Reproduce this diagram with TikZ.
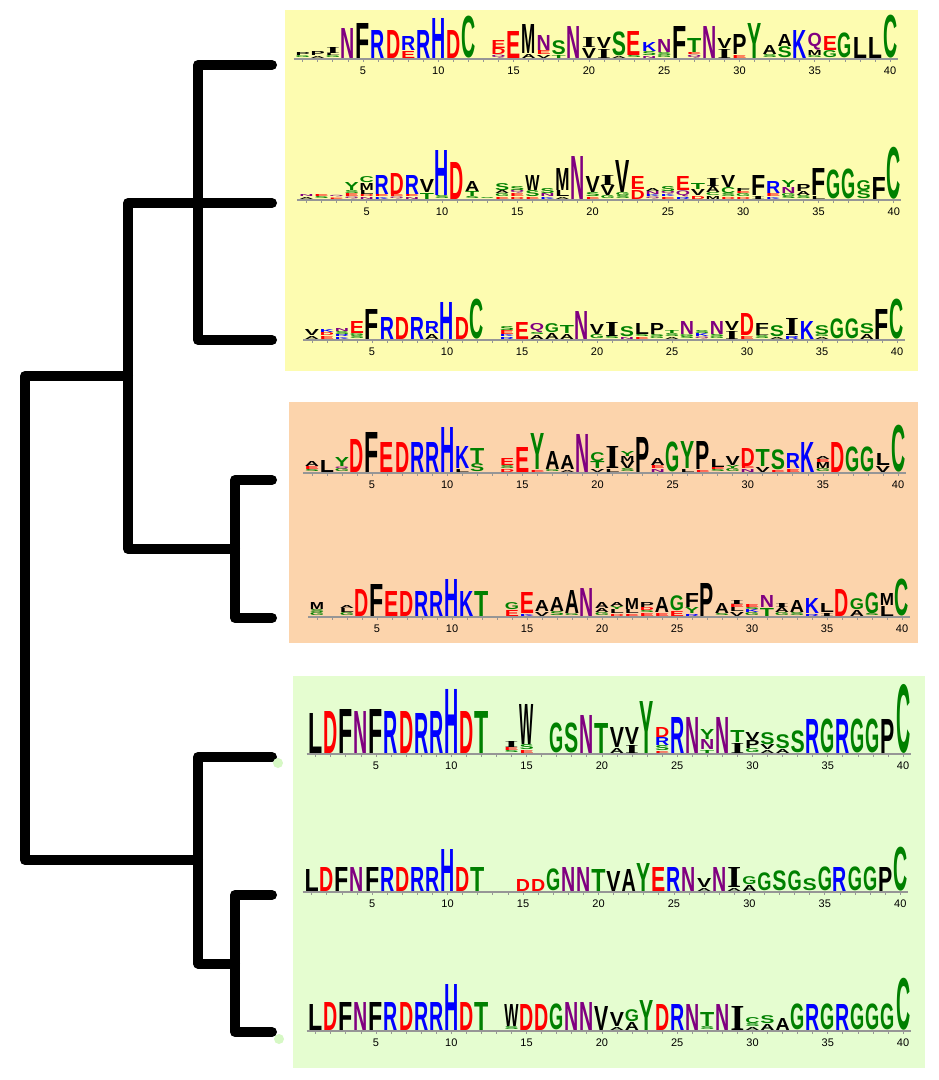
\documentclass[tikz,border=0pt]{standalone}
\usepackage{fontspec}
\usepackage{graphicx}
\newfontfamily\logofont{Liberation Sans}
\newfontfamily\logoserif{Liberation Serif}
\newfontfamily\labfont{Liberation Sans}
\definecolor{lgred}{RGB}{255,0,0}
\definecolor{lgblue}{RGB}{0,0,255}
\definecolor{lggreen}{RGB}{0,128,0}
\definecolor{lgpurple}{RGB}{128,0,128}
\definecolor{lgblack}{RGB}{0,0,0}
\definecolor{bgyellow}{RGB}{253,252,176}
\definecolor{bgorange}{RGB}{252,212,172}
\definecolor{bggreen}{RGB}{229,253,208}
\definecolor{dotgreen}{RGB}{214,248,196}
\definecolor{axgray}{RGB}{150,150,150}
\newcommand\defgl[2]{\expandafter\def\csname gl@#1\endcsname{\textcolor{#2}{\logofont\bfseries #1}}}
\defgl{D}{lgred}\defgl{E}{lgred}
\defgl{R}{lgblue}\defgl{K}{lgblue}\defgl{H}{lgblue}
\defgl{N}{lgpurple}\defgl{Q}{lgpurple}
\defgl{S}{lggreen}\defgl{T}{lggreen}\defgl{G}{lggreen}\defgl{Y}{lggreen}\defgl{C}{lggreen}
\defgl{A}{lgblack}\defgl{V}{lgblack}\defgl{L}{lgblack}\defgl{P}{lgblack}\defgl{W}{lgblack}\defgl{F}{lgblack}\defgl{M}{lgblack}
\expandafter\def\csname gl@I\endcsname{\textcolor{lgblack}{\logoserif\bfseries I}}
\newcount\glc
\def\lgw{14.2pt}
\newcommand\setrow[4]{\gdef\rid{#1}\gdef\rb{#2}\gdef\rx{#3}\gdef\rd{#4}}
\newcommand\C[2]{%
  \gdef\lgacc{0}%
  \foreach \lgL/\lgH in {#2}{%
    \pgfmathsetmacro\lgx{\rx+\rd*#1}%
    \pgfmathsetmacro\lgy{\rb-1-\lgacc}%
    \global\advance\glc by 1
    \node[glyph, name=g\the\glc] at (\lgx,\lgy) {\resizebox*{\lgw}{\lgH pt}{\csname gl@\lgL\endcsname}};
    \pgfmathsetmacro\lgt{\lgacc+\lgH+0.3}\xdef\lgacc{\lgt}%
  }}
\newcommand\axis{%
  \draw[axisline] (\rx+\rd*0.4,\rb) -- (\rx+\rd*40.5,\rb);
  \foreach \p in {1,...,40}{\draw[tickline] (\rx+\rd*\p,\rb) -- ++(0,3);}
  \foreach \p in {5,10,...,40}{\node[lab, name=ax\rid-\p] at (\rx+\rd*\p,\rb+12) {\p};}
}
\begin{document}
\begin{tikzpicture}[x=1pt,y=-1pt,
  glyph/.style={inner sep=0pt, outer sep=0pt, anchor=south},
  axisline/.style={axgray, line width=1.6pt},
  tickline/.style={axgray, line width=0.8pt},
  lab/.style={inner sep=0pt, font=\labfont\fontsize{11}{12}\selectfont},
  tree/.style={line width=10pt, line cap=round, line join=round, black}]
\useasboundingbox[fill=white] (0,0) rectangle (938,1080);
% backgrounds
\fill[bgyellow] (285,10) rectangle (918,371);
\fill[bgorange] (289,402) rectangle (918,643);
\fill[bggreen] (293,676) rectangle (925,1068);
% tree
\coordinate (l1) at (272,65);
\coordinate (l2) at (272,203);
\coordinate (l3) at (272,340);
\coordinate (l4) at (272,480);
\coordinate (l5) at (272,618);
\coordinate (l6) at (272,757);
\coordinate (l7) at (272,895);
\coordinate (l8) at (272,1032);
\coordinate (n13) at (198,202.5);
\coordinate (n45) at (235,549);
\coordinate (nY) at (128,376);
\coordinate (root) at (25,618);
\coordinate (g78) at (235,963.5);
\coordinate (g678) at (198,860);
\draw[tree] (l1) -| (n13) |- (l3);
\draw[tree] (l2) -| (nY) |- (n45);
\draw[tree] (l4) -| (n45) |- (l5);
\draw[tree] (nY) -| (root) |- (g678);
\draw[tree] (l6) -| (g678) |- (g78);
\draw[tree] (l7) -| (g78) |- (l8);
\fill[dotgreen] (278,763) circle (5);
\fill[dotgreen] (279,1039) circle (5);
% ---------------- row 1
\setrow{1}{59}{287.7}{15.06}\axis
\C{1}{G/2,P/3}\C{2}{A/2,P/4}\C{3}{G/2,L/2,I/6}\C{4}{N/30}\C{5}{F/35}\C{6}{R/28}\C{7}{D/28}
\C{8}{E/7,R/14}\C{9}{R/28}\C{10}{H/40}\C{11}{D/28}\C{12}{C/42}
\C{14}{Q/3,D/6,E/8}\C{15}{E/27}\C{16}{A/4,M/29}\C{17}{V/3,E/4,N/15}\C{18}{T/3,S/14}
\C{19}{N/32}\C{20}{V/10,I/10}\C{21}{I/9,V/11}\C{22}{A/2,S/24}\C{23}{S/2,E/24}
\C{24}{N/2,S/4,K/9}\C{25}{G/2,S/3,N/13}\C{26}{F/32}\C{27}{Q/3,E/2,T/14}\C{28}{N/32}
\C{29}{I/9,V/10}\C{30}{E/3,P/20}\C{31}{Y/35}\C{32}{S/3,A/9}\C{33}{S/11,A/12}
\C{34}{K/28}\C{35}{G/2,M/5,Q/17}\C{36}{G/7,E/14}\C{37}{G/25}\C{38}{L/21}\C{39}{L/21}\C{40}{C/43}
% ---------------- row 2
\setrow{2}{200}{291.4}{15.06}\axis
\C{1}{A/2,N/2}\C{2}{S/2,E/2}\C{3}{E/1.5,Q/1.5}\C{4}{Q/2,E/3,S/3,Y/8}
\C{5}{N/2,D/2,L/4,M/7,C/6}\C{6}{K/2,E/2,R/19}\C{7}{Q/2,E/2,D/21}\C{8}{N/2,E/2,R/19}
\C{9}{T/6,V/13}\C{10}{S/3,H/45}\C{11}{D/37}\C{12}{S/2,T/5,A/10}\C{13}{S/1}
\C{14}{E/2,G/3,A/3,S/7}\C{15}{D/2,E/3,Q/3,S/4}\C{16}{E/2,S/6,W/15}\C{17}{K/2,N/3,S/5}
\C{18}{A/2,L/6,M/22}\C{19}{N/43}\C{20}{E/2,S/4,V/16}\C{21}{G/3,V/10,I/10}
\C{22}{S/3,G/3,V/32}\C{23}{D/9,E/13}\C{24}{Q/2,K/2,N/3,A/3}\C{25}{E/2,K/2,Q/3,S/5}
\C{26}{R/2,Q/6,E/14}\C{27}{D/3,V/6,T/6}\C{28}{M/3,C/3,A/6,I/8}\C{29}{D/2,S/3,C/6,V/12}
\C{30}{D/2,G/3,E/2,F/3}\C{31}{I/3,F/20}\C{32}{K/2,E/3,R/12}\C{33}{S/2,G/3,N/6,Y/7}
\C{34}{S/3,A/4,P/7}\C{35}{L/3,F/27}\C{36}{G/29}\C{37}{G/30}\C{38}{S/8,G/10}\C{39}{F/22}\C{40}{C/52}
% ---------------- row 3
\setrow{3}{340}{297}{15}\axis
\C{1}{A/3,V/6}\C{2}{E/3,D/3,K/3}\C{3}{K/2,R/2,S/3,N/3}\C{4}{S/3,G/2,E/12}
\C{5}{F/30}\C{6}{R/22}\C{7}{D/22}\C{8}{R/22}\C{9}{A/5,R/12}\C{10}{H/37}\C{11}{D/22}\C{12}{C/40}
\C{14}{R/2,K/2,E/4,S/4}\C{15}{E/17}\C{16}{A/4,S/2,Q/9}\C{17}{A/6,G/9}\C{18}{A/5,T/8}
\C{19}{N/28}\C{20}{G/4,V/10}\C{21}{S/2,I/14}\C{22}{N/2,S/10}\C{23}{E/2,S/2,L/11}
\C{24}{G/2,S/2,P/11}\C{25}{A/2,S/3,T/3}\C{26}{S/2,G/2,N/13}\C{27}{Q/2,K/3,S/3}
\C{28}{G/2,S/2,N/13}\C{29}{I/8,V/9}\C{30}{E/3,D/22}\C{31}{S/3,L/3,F/9}\C{32}{A/2,S/11}
\C{33}{R/3,I/17}\C{34}{K/18}\C{35}{A/2,G/2,S/9}\C{36}{G/20}\C{37}{G/20}\C{38}{A/5,S/10}
\C{39}{F/30}\C{40}{C/40}
% ---------------- row 4
\setrow{4}{473}{296.9}{15.03}\axis
\C{1}{S/2,E/3,A/5}\C{2}{L/12}\C{3}{G/3,Q/2,Y/9}\C{4}{D/33}\C{5}{F/40}\C{6}{E/30}
\C{7}{D/30}\C{8}{R/30}\C{9}{R/30}\C{10}{H/45}\C{11}{L/3,K/22}\C{12}{S/8,T/15}
\C{14}{D/3,S/3,E/7}\C{15}{E/25}\C{16}{E/2,Y/36}\C{17}{G/2,A/18}\C{18}{A/2,A/14}
\C{19}{N/38}\C{20}{V/3,T/7,C/9}\C{21}{L/3,I/22}\C{22}{S/3,V/7,M/5,Y/5}\C{23}{P/35}
\C{24}{N/3,E/3,A/7}\C{25}{G/30}\C{26}{L/3,Y/27}\C{27}{E/2,P/28}\C{28}{S/2,E/2,L/8}
\C{29}{G/3,Y/3,V/9}\C{30}{N/3,E/2,D/18}\C{31}{V/5,T/17}\C{32}{E/2,S/20}\C{33}{E/3,R/15}
\C{34}{K/30}\C{35}{G/3,M/6,E/3,A/3}\C{36}{D/30}\C{37}{G/25}\C{38}{G/25}\C{39}{V/6,L/12}\C{40}{C/47}
% ---------------- row 5
\setrow{5}{617}{302}{15}\axis
\C{1}{G/3,S/3,M/7}\C{3}{G/3,L/4,A/3}\C{4}{D/27}\C{5}{F/32}\C{6}{E/25}\C{7}{D/25}
\C{8}{R/25}\C{9}{R/25}\C{10}{H/37}\C{11}{K/25}\C{12}{T/25}
\C{14}{E/6,G/7}\C{15}{K/2,E/21}\C{16}{V/4,A/11}\C{17}{S/4,A/14}\C{18}{G/2,A/23}
\C{19}{N/28}\C{20}{G/3,A/4,A/6}\C{21}{D/2,L/4,Y/3,A/4}\C{22}{E/2,L/4,M/11}
\C{23}{E/3,S/2,D/3,P/5}\C{24}{E/3,A/15}\C{25}{E/5,G/15}\C{26}{R/2,Y/6,F/14}\C{27}{P/33}
\C{28}{S/2,A/10}\C{29}{V/4,L/4,E/3,I/4}\C{30}{G/3,K/3,S/2,E/3}\C{31}{T/8,N/12}
\C{32}{G/3,A/5,I/4}\C{33}{S/3,A/12}\C{34}{R/2,K/15}\C{35}{I/3,L/9}\C{36}{D/27}
\C{37}{A/6,G/11}\C{38}{S/2,G/21}\C{39}{L/10,M/12}\C{40}{C/37}
% ---------------- row 6
\setrow{6}{754}{300.7}{15.06}\axis
\C{1}{L/40}\C{2}{D/42}\C{3}{F/44}\C{4}{N/42}\C{5}{F/44}\C{6}{R/42}\C{7}{D/42}\C{8}{R/40}
\C{9}{R/42}\C{10}{H/64}\C{11}{D/42}\C{12}{T/42}\C{14}{S/2,E/3,I/6}\C{15}{E/3,S/5,W/40}
\C{17}{G/30}\C{18}{S/30}\C{19}{N/38}\C{20}{T/30}\C{21}{A/5,V/20}\C{22}{I/8,V/17}\C{23}{Y/52}
\C{24}{E/2,S/5,R/8,D/10}\C{25}{R/36}\C{26}{N/36}\C{27}{T/3,N/10,Y/10}\C{28}{N/36}
\C{29}{I/10,T/12}\C{30}{G/4,P/8,V/8}\C{31}{A/3,V/5,S/12}\C{32}{A/4,S/14}\C{33}{S/22}
\C{34}{R/34}\C{35}{G/34}\C{36}{R/34}\C{37}{G/34}\C{38}{G/34}\C{39}{P/34}\C{40}{C/69}
% ---------------- row 7
\setrow{7}{892}{296.7}{15.09}\axis
\C{1}{L/22}\C{2}{D/24}\C{3}{F/24}\C{4}{N/24}\C{5}{F/24}\C{6}{R/24}\C{7}{D/24}\C{8}{R/24}
\C{9}{R/24}\C{10}{H/42}\C{11}{D/24}\C{12}{T/24}\C{15}{D/12}\C{16}{D/12}
\C{17}{G/22}\C{18}{N/24}\C{19}{N/24}\C{20}{T/22}\C{21}{V/20}\C{22}{A/22}\C{23}{Y/28}
\C{24}{E/24}\C{25}{R/24}\C{26}{N/24}\C{27}{A/3,V/9}\C{28}{N/24}\C{29}{A/3,I/20}
\C{30}{A/6,G/8}\C{31}{G/18}\C{32}{S/20}\C{33}{G/20}\C{34}{S/12}\C{35}{G/24}\C{36}{R/24}
\C{37}{G/24}\C{38}{G/24}\C{39}{P/24}\C{40}{C/44}
% ---------------- row 8
\setrow{8}{1031}{300.7}{15.06}\axis
\C{1}{L/26}\C{2}{D/28}\C{3}{F/28}\C{4}{N/28}\C{5}{F/28}\C{6}{R/28}\C{7}{D/28}\C{8}{R/28}
\C{9}{R/28}\C{10}{H/46}\C{11}{D/28}\C{12}{T/28}\C{14}{S/3,W/22}\C{15}{D/26}\C{16}{D/26}
\C{17}{G/26}\C{18}{N/28}\C{19}{N/28}\C{20}{V/24}\C{21}{A/3,V/14}\C{22}{A/8,G/12}\C{23}{Y/30}
\C{24}{D/26}\C{25}{R/26}\C{26}{N/26}\C{27}{S/3,T/14}\C{28}{N/26}\C{29}{I/24}
\C{30}{A/3,S/3,C/6}\C{31}{A/6,S/8}\C{32}{A/12}\C{33}{G/26}\C{34}{R/26}\C{35}{G/26}\C{36}{R/26}
\C{37}{G/26}\C{38}{G/26}\C{39}{G/26}\C{40}{C/52}
\end{tikzpicture}
\end{document}
